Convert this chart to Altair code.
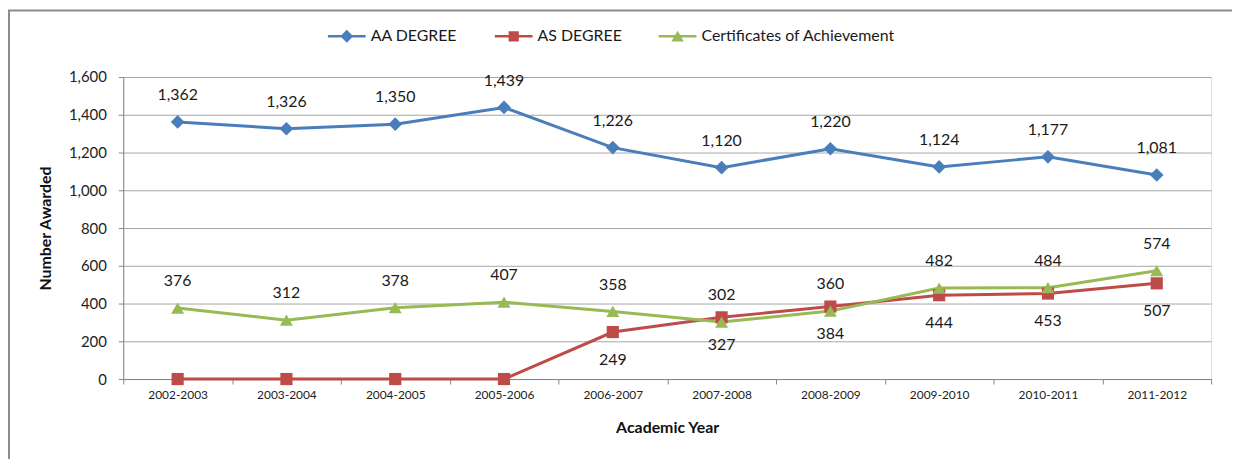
import altair as alt
import pandas as pd

years = ["2002-2003", "2003-2004", "2004-2005", "2005-2006", "2006-2007",
         "2007-2008", "2008-2009", "2009-2010", "2010-2011", "2011-2012"]
aa_degree = [1362, 1326, 1350, 1439, 1226, 1120, 1220, 1124, 1177, 1081]
as_degree = [0, 0, 0, 0, 249, 327, 384, 444, 453, 507]
certificates = [376, 312, 378, 407, 358, 302, 360, 482, 484, 574]

series_names = ["AA DEGREE", "AS DEGREE", "Certificates of Achievement"]
series_colors = ["#4A7EBB", "#BE4B48", "#98B954"]

rows = []
for name, vals in zip(series_names, [aa_degree, as_degree, certificates]):
    for y, v in zip(years, vals):
        rows.append({"year": y, "series": name, "value": v})
df = pd.DataFrame(rows)

FONT = "Lato"

x_enc = alt.X(
    "year:N", sort=years, bandPosition=0.5,
    scale=alt.Scale(type="band", paddingInner=0, paddingOuter=0),
    axis=alt.Axis(title="Academic Year", tickBand="extent", labelAngle=0,
                  labelFontSize=12, labelFont=FONT, labelColor="#222",
                  labelPadding=6, tickSize=5, tickColor="#868686",
                  domainColor="#868686", titleFont=FONT, titleFontSize=16,
                  titleFontWeight="bold", titleColor="#111", titlePadding=19,
                  grid=False),
)
y_enc = alt.Y(
    "value:Q",
    scale=alt.Scale(domain=[0, 1600], nice=False),
    axis=alt.Axis(title="Number Awarded", values=list(range(0, 1601, 200)),
                  format=",d", labelFontSize=15, labelFont=FONT, labelColor="#222",
                  labelPadding=12, tickSize=5, tickColor="#868686",
                  domainColor="#868686", gridColor="#A6A6A6", titleFont=FONT,
                  titleFontSize=16, titleFontWeight="bold", titleColor="#111",
                  titlePadding=15),
)
color_scale = alt.Scale(domain=series_names, range=series_colors)

base = alt.Chart(df)

lines = base.mark_line(strokeWidth=3).encode(
    x=x_enc, y=y_enc,
    color=alt.Color("series:N", scale=color_scale, legend=None),
    detail="series:N",
)

marker_shapes = ["diamond", "square", "triangle-up"]
marker_sizes = [190, 150, 170]
markers = []
for name, shp, sz in zip(series_names, marker_shapes, marker_sizes):
    markers.append(
        base.transform_filter(alt.datum.series == name)
        .mark_point(shape=shp, filled=True, opacity=1, size=sz)
        .encode(x=x_enc, y=y_enc,
                color=alt.Color("series:N", scale=color_scale, legend=None))
    )

label_offsets = {"AA DEGREE": -27, "AS DEGREE": 28, "Certificates of Achievement": -27}
labels = []
for name in series_names:
    labels.append(
        base.transform_filter((alt.datum.series == name) & (alt.datum.value > 0))
        .mark_text(font=FONT, fontSize=16, color="#1A1A1A", baseline="middle",
                   dy=label_offsets[name])
        .encode(x=x_enc, y=y_enc, text=alt.Text("value:Q", format=",d"))
    )

legend_paths = [
    "M-1,-0.07L1,-0.07L1,0.07L-1,0.07Z M0,-0.34L0.34,0L0,0.34L-0.34,0Z",
    "M-1,-0.07L1,-0.07L1,0.07L-1,0.07Z M-0.27,-0.27L0.27,-0.27L0.27,0.27L-0.27,0.27Z",
    "M-1,-0.07L1,-0.07L1,0.07L-1,0.07Z M0,-0.3L0.33,0.27L-0.33,0.27Z",
]
legend_def = alt.Legend(title=None, orient="none", legendX=206, legendY=-60,
                        direction="horizontal", symbolSize=1444, symbolOpacity=1,
                        symbolStrokeWidth=0, labelFont=FONT, labelFontSize=16,
                        labelColor="#1A1A1A", labelOffset=5, columnPadding=37,
                        labelLimit=400, padding=0)
legend_layer = base.mark_point(filled=True, opacity=0).encode(
    x=x_enc, y=y_enc,
    color=alt.Color("series:N", scale=color_scale, legend=legend_def),
    shape=alt.Shape("series:N",
                    scale=alt.Scale(domain=series_names, range=legend_paths),
                    legend=legend_def),
)

frame_data = alt.Data(values=[{"k": 1}])
frame = alt.Chart(frame_data).mark_rect(
    fill="transparent", stroke="#8C8C8C", strokeWidth=2
).encode(
    x=alt.value(-115), x2=alt.value(1200), y=alt.value(-67), y2=alt.value(500)
)

chart = alt.layer(
    lines, *markers, *labels, legend_layer, frame
).resolve_scale(
    color="independent", shape="independent"
).properties(
    width=1095, height=304,
    autosize=alt.AutoSizeParams(type="none"),
    padding={"left": 116, "top": 68, "right": 21, "bottom": 79},
).configure_view(stroke=None).configure(background="white")

chart.save("out.html", embed_options={"renderer": "svg", "actions": False})
